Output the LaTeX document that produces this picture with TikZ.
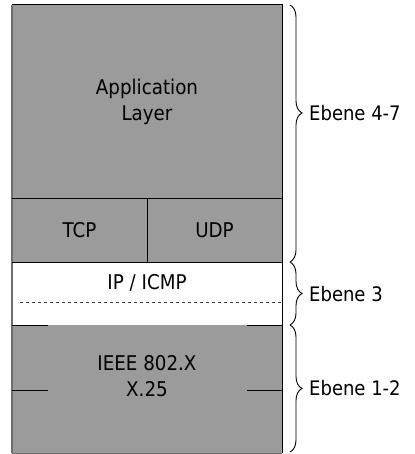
\documentclass[tikz,border=0pt]{standalone}
\usepackage{fontspec}
\setmainfont[FakeStretch=0.9]{DejaVu Sans}
\usetikzlibrary{decorations.pathreplacing}
\definecolor{layergray}{HTML}{9B9B9B}
\definecolor{edgegray}{HTML}{6E6E6E}
\begin{document}
\begin{tikzpicture}[x=1pt,y=-1pt,
  layer/.style={rectangle, fill=layergray, draw=none, inner sep=0pt, outer sep=0pt, anchor=north west},
  lbl/.style={font=\fontsize{20.3}{26}\selectfont, text=black, align=center, inner sep=0pt},
  edge/.style={line width=1pt, draw=black},
  dashline/.style={line width=0.9pt, draw=black!75, dash pattern=on 3pt off 3pt},
  bracepath/.style={decorate, line width=0.9pt, draw=black},
  ebene/.style={font=\fontsize{20}{26}\selectfont, text=black, anchor=west, inner sep=0pt}]
\useasboundingbox (0,0) rectangle (414,454);
% layers
\node[layer, lbl, anchor=north west, minimum width=270pt, minimum height=193pt] (app) at (12,5) {Application\\Layer};
\node[layer, lbl, anchor=north west, minimum width=135pt, minimum height=64pt] (tcp) at (12,198) {TCP};
\node[layer, lbl, anchor=north west, minimum width=135pt, minimum height=64pt] (udp) at (147,198) {UDP};
\node[layer, fill=white, anchor=north west, minimum width=270pt, minimum height=63pt] (ip) at (12,262) {};
\node[layer, anchor=north west, minimum width=270pt, minimum height=128pt] (phys) at (12,325) {};
\node[lbl] (iptext) at (147,282.5) {IP / ICMP};
\node[lbl] (phystext) at (147,376) {IEEE 802.X\\X.25};
% outlines
\draw[line width=0.6pt, draw=edgegray] (phys.south west) -- (phys.south east);
\draw[line width=1.4pt, draw=edgegray] (app.north west) -- (phys.south west);
\draw[edge] (app.north west) -- (app.north east) -- (phys.south east);
\draw[edge] (tcp.north west) -- (udp.north east);
\draw[edge] (tcp.north east) -- (tcp.south east);
\draw[edge] (tcp.south west) -- (udp.south east);
% dashed separator
\coordinate (dl) at (20,302);
\coordinate (dr) at (282,302);
\draw[dashline] (dl) -- (dr);
% short marks
\coordinate (m1) at (48,325);
\coordinate (m2) at (247,325);
\coordinate (m3) at (48,390);
\coordinate (m4) at (247,390);
\coordinate (m3l) at (12,390);
\coordinate (m4r) at (282,390);
\draw[edge] (phys.north west) -- (m1);
\draw[edge] (m2) -- (phys.north east);
\draw[edge] (m3l) -- (m3);
\draw[edge] (m4) -- (m4r);
% braces
\coordinate (b1t) at (290,5);
\coordinate (b1b) at (290,262);
\coordinate (b2t) at (290,262);
\coordinate (b2b) at (290,325);
\coordinate (b3t) at (290,325);
\coordinate (b3b) at (290,452);
\draw[bracepath, decoration={brace, amplitude=12pt, aspect=0.42}] (b1t) -- (b1b);
\draw[bracepath, decoration={brace, amplitude=12pt, aspect=0.5}] (b2t) -- (b2b);
\draw[bracepath, decoration={brace, amplitude=12pt, aspect=0.5}] (b3t) -- (b3b);
\node[ebene] (e47) at (309,113) {Ebene 4-7};
\node[ebene] (e3) at (309,294) {Ebene 3};
\node[ebene] (e12) at (309,388) {Ebene 1-2};
\end{tikzpicture}
\end{document}
